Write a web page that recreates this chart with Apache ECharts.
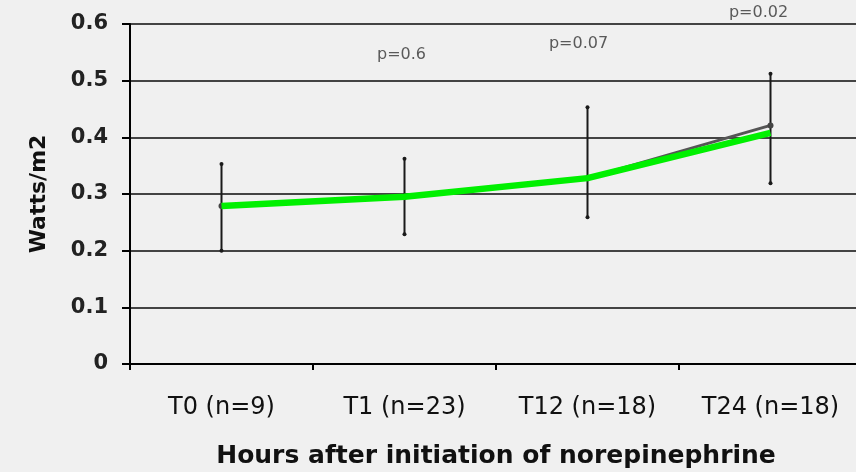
<!DOCTYPE html>
<html>
<head>
<meta charset="utf-8">
<title>Watts/m2</title>
<style>
  html, body { margin: 0; padding: 0; background: #f0f0f0; }
  #main { width: 856px; height: 472px; }
</style>
</head>
<body>
<div id="main"></div>
<script src="https://cdn.jsdelivr.net/npm/echarts@6/dist/echarts.min.js"></script>
<script>
// categories on the x axis
var categories = ['T0 (n=9)', 'T1 (n=23)', 'T12 (n=18)', 'T24 (n=18)'];
// mean values (green line) and the grey line underneath
var greenMean = [0.279, 0.295, 0.328, 0.408];
var greyMean = [0.279, 0.295, 0.328, 0.421];
// error bar ends
var errLow = [0.200, 0.229, 0.259, 0.319];
var errHigh = [0.353, 0.362, 0.453, 0.512];
// p-value annotations: category index, height, text
var pIndex = [1, 2, 3];
var pHeight = [0.545, 0.565, 0.619];
var pText = ['p=0.6', 'p=0.07', 'p=0.02'];

// small sideways nudges so the p labels sit a bit left of the bars
var pShift = [-3, -9, -12];

var chart = echarts.init(document.getElementById('main'));

var errData = categories.map(function (c, i) { return [i, errLow[i], errHigh[i]]; });
var pData = pIndex.map(function (c, i) {
  return { value: [c, pHeight[i]], label: { offset: [pShift[i], 0] } };
});

var option = {
  backgroundColor: '#f0f0f0',
  animation: false,
  // plot runs a little past the right edge of the picture
  grid: { left: 130, top: 24, width: 732, height: 340, outerBoundsMode: 'none', containLabel: false },
  xAxis: {
    type: 'category',
    data: categories,
    boundaryGap: true,
    name: 'Hours after initiation of norepinephrine',
    nameLocation: 'middle',
    nameGap: 80,
    nameTextStyle: { fontFamily: 'DejaVu Sans', fontWeight: 'bold', fontSize: 25, color: '#111' },
    axisLine: { lineStyle: { color: '#000', width: 2 } },
    axisTick: { show: true, length: 6, lineStyle: { color: '#000', width: 2 } },
    axisLabel: { margin: 32, fontFamily: 'DejaVu Sans', fontSize: 24, color: '#111' },
    splitLine: { show: false }
  },
  yAxis: {
    type: 'value',
    min: 0,
    max: 0.6,
    interval: 0.1,
    name: 'Watts/m2',
    nameLocation: 'middle',
    nameGap: 80,
    nameTextStyle: { fontFamily: 'DejaVu Sans', fontWeight: 'bold', fontSize: 22, color: '#111' },
    axisLine: { show: true, lineStyle: { color: '#000', width: 2 } },
    axisTick: { show: true, length: 8, lineStyle: { color: '#000', width: 2 } },
    axisLabel: { margin: 22, fontFamily: 'DejaVu Sans', fontWeight: 'bold', fontSize: 21, color: '#222' },
    splitLine: { show: true, lineStyle: { color: '#444', width: 2 } }
  },
  series: [
    {
      type: 'custom',
      data: errData,
      z: 2,
      renderItem: function (params, api) {
        var lo = api.coord([api.value(0), api.value(1)]);
        var hi = api.coord([api.value(0), api.value(2)]);
        var st = { stroke: '#1a1a1a', lineWidth: 2 };
        return {
          type: 'group',
          children: [
            { type: 'line', shape: { x1: lo[0], y1: lo[1], x2: hi[0], y2: hi[1] }, style: st },
            { type: 'circle', shape: { cx: lo[0], cy: lo[1], r: 2 }, style: { fill: '#1a1a1a' } },
            { type: 'circle', shape: { cx: hi[0], cy: hi[1], r: 2 }, style: { fill: '#1a1a1a' } }
          ]
        };
      }
    },
    {
      type: 'line',
      data: greyMean,
      z: 3,
      symbol: 'circle',
      symbolSize: 6,
      itemStyle: { color: '#444' },
      lineStyle: { color: '#555', width: 3 }
    },
    {
      type: 'line',
      data: greenMean,
      z: 4,
      symbol: 'none',
      lineStyle: { color: '#00f000', width: 6.5 }
    },
    {
      type: 'scatter',
      data: pData,
      clip: false,
      symbolSize: 0,
      z: 5,
      label: {
        show: true,
        position: 'inside',
        fontFamily: 'DejaVu Sans',
        fontSize: 16,
        color: '#333',
        formatter: function (p) { return pText[p.dataIndex]; }
      }
    }
  ]
};

chart.setOption(option);
</script>
</body>
</html>
